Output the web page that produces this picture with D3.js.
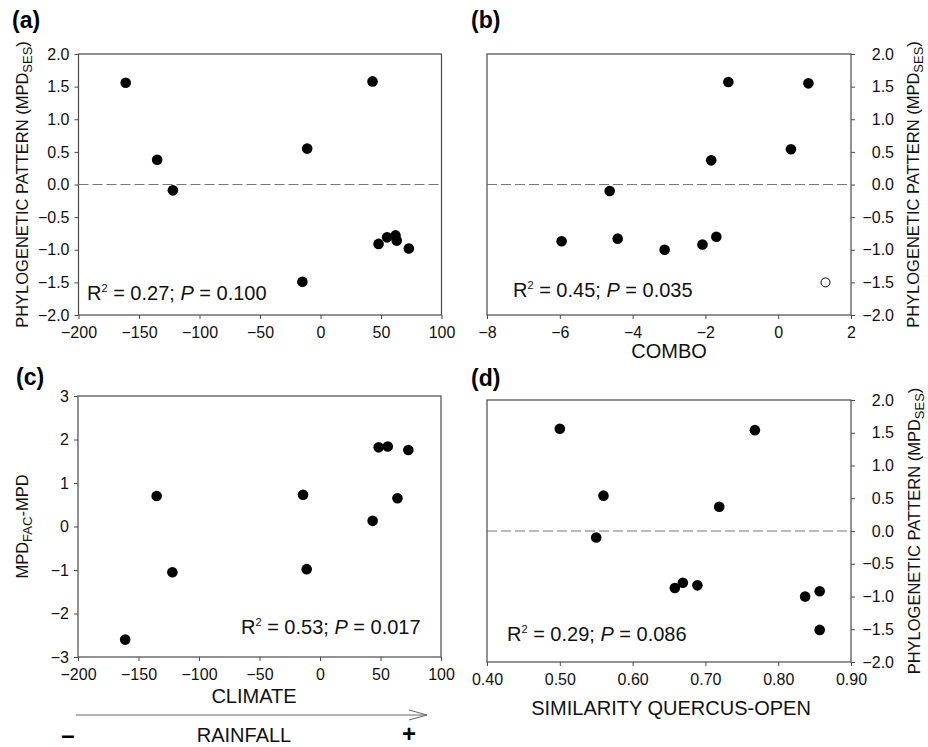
<!DOCTYPE html>
<html>
<head>
<meta charset="utf-8">
<script src="https://cdn.jsdelivr.net/npm/d3@7"></script>
<style>
    body { margin: 0; background: #fff; }
    svg { display: block; }
</style>
</head>
<body>
<div id="chart"></div>
<script>
// panel (a): climate vs phylogenetic pattern
const climateA = [-161, -135, -122, -15, -11, 43, 48, 55, 62, 63, 73]
const mpdSesA = [1.56, 0.38, -0.09, -1.49, 0.55, 1.58, -0.91, -0.81, -0.78, -0.86, -0.98]

// panel (b): combo vs phylogenetic pattern (one open point)
const comboB = [-5.95, -4.63, -4.41, -3.12, -2.08, -1.84, -1.70, -1.37, 0.35, 0.83]
const mpdSesB = [-0.87, -0.10, -0.83, -1.0, -0.92, 0.37, -0.80, 1.57, 0.54, 1.55]
const comboOpenB = [1.30]
const mpdSesOpenB = [-1.50]

// panel (c): climate vs MPDfac - MPD
const climateC = [-161, -135, -122, -14, -11, 43.5, 48.5, 56, 64, 73]
const mpdFacC = [-2.6, 0.70, -1.05, 0.73, -0.98, 0.13, 1.82, 1.84, 0.65, 1.76]

// panel (d): similarity quercus-open vs phylogenetic pattern
const similarityD = [0.50, 0.55, 0.56, 0.658, 0.669, 0.689, 0.719, 0.768, 0.837, 0.857, 0.857]
const mpdSesD = [1.56, -0.10, 0.54, -0.87, -0.79, -0.83, 0.37, 1.54, -1.0, -0.92, -1.51]

// tick values
const climateTicks = [-200, -150, -100, -50, 0, 50, 100]
const comboTicks = [-8, -6, -4, -2, 0, 2]
const similarityTicks = [0.40, 0.50, 0.60, 0.70, 0.80, 0.90]
const sesTicks = [-2, -1.5, -1, -0.5, 0, 0.5, 1, 1.5, 2]
const facTicks = [-3, -2, -1, 0, 1, 2, 3]

// stats text
const statsA = ['0.27', '0.100']
const statsB = ['0.45', '0.035']
const statsC = ['0.53', '0.017']
const statsD = ['0.29', '0.086']

const FONT = '"Liberation Sans", Arial, Helvetica, sans-serif'
const LINE = '#4a4a4a'

const svg = d3.select('#chart')
    .append('svg')
        .attr('width', 928)
        .attr('height', 747)
        .style('font-family', FONT)

const styleAxis = (axisG) => {
    axisG.attr('font-size', null).attr('font-family', null)
    axisG.select('.domain').remove()
    axisG.selectAll('.tick line').attr('stroke', LINE)
    axisG.selectAll('.tick text')
        .attr('fill', '#111')
        .style('font-size', '16px')
        .style('font-family', FONT)
}

const createPanel = ({left, top, width, height, xDomain, yDomain, xTicks, yTicks, xFormat, yFormat, yRight}) => {
    const g = svg.append('g')
        .attr('transform', 'translate(' + left + ',' + top + ')')

    const xScale = d3.scaleLinear().domain(xDomain).range([0, width])
    const yScale = d3.scaleLinear().domain(yDomain).range([height, 0])

    // frame
    g.append('rect')
        .attr('width', width)
        .attr('height', height)
        .attr('fill', 'none')
        .attr('stroke', LINE)
        .attr('stroke-width', 1.2)

    const xAxis = d3.axisBottom(xScale)
        .tickValues(xTicks)
        .tickFormat(d3.format(xFormat))
        .tickSize(4)
        .tickSizeOuter(0)
        .tickPadding(8)
    g.append('g')
        .attr('transform', 'translate(0,' + height + ')')
        .call(xAxis)
        .call(styleAxis)

    const yAxis = (yRight ? d3.axisRight(yScale) : d3.axisLeft(yScale))
        .tickValues(yTicks)
        .tickFormat(d3.format(yFormat))
        .tickSize(4)
        .tickSizeOuter(0)
        .tickPadding(5)
    const yG = g.append('g')
        .attr('transform', yRight ? 'translate(' + width + ',0)' : null)
        .call(yAxis)
        .call(styleAxis)
    if (yRight) {
        // labels are right-aligned in the original
        yG.selectAll('.tick text')
            .attr('text-anchor', 'end')
            .attr('x', 43)
    }

    return {g, xScale, yScale, width, height}
}

const zeroLine = (panel) => {
    panel.g.append('line')
        .attr('x1', 0)
        .attr('x2', panel.width)
        .attr('y1', panel.yScale(0))
        .attr('y2', panel.yScale(0))
        .attr('stroke', '#777')
        .attr('stroke-width', 1.2)
        .attr('stroke-dasharray', '10,4')
}

const plotPoints = (panel, xs, ys, open) => {
    panel.g.append('g')
        .selectAll('circle')
        .data(d3.zip(xs, ys))
        .join('circle')
            .attr('cx', (d) => panel.xScale(d[0]))
            .attr('cy', (d) => panel.yScale(d[1]))
            .attr('r', open ? 4.5 : 5.3)
            .attr('fill', open ? '#fff' : '#000')
            .attr('stroke', '#000')
            .attr('stroke-width', open ? 1 : 0)
}

const plotStats = (x, y, [r2, p]) => {
    const t = svg.append('text')
        .attr('x', x)
        .attr('y', y)
        .style('font-size', '20px')
        .attr('fill', '#111')
    t.append('tspan').text('R')
    t.append('tspan').text('2').style('font-size', '11px').attr('dy', -8)
    t.append('tspan').text(' = ' + r2 + '; ').attr('dy', 8)
    t.append('tspan').text('P').style('font-style', 'italic')
    t.append('tspan').text(' = ' + p)
}

const panelLabel = (x, y, label) => {
    svg.append('text')
        .attr('x', x)
        .attr('y', y)
        .style('font-size', '23px')
        .style('font-weight', 'bold')
        .text(label)
}

const yLabel = (x, y, parts) => {
    const t = svg.append('text')
        .attr('transform', 'translate(' + x + ',' + y + ') rotate(-90)')
        .attr('text-anchor', 'middle')
        .style('font-size', '16.5px')
        .attr('fill', '#111')
    parts.forEach(([text, sub]) => {
        t.append('tspan')
            .text(text)
            .attr('dy', sub === 1 ? 4 : sub === -1 ? -4 : 0)
            .style('font-size', sub === 1 ? '13px' : null)
    })
}

const xLabel = (x, y, text) => {
    svg.append('text')
        .attr('x', x)
        .attr('y', y)
        .attr('text-anchor', 'middle')
        .style('font-size', '20px')
        .attr('fill', '#111')
        .text(text)
}

const sesLabel = [['PHYLOGENETIC PATTERN (MPD', 0], ['SES', 1], [')', -1]]

// (a)
const pa = createPanel({left: 78.5, top: 54, width: 363, height: 261,
    xDomain: [-200, 100], yDomain: [-2, 2], xTicks: climateTicks, yTicks: sesTicks,
    xFormat: 'd', yFormat: '.1f'})
zeroLine(pa)
plotPoints(pa, climateA, mpdSesA)
plotStats(87, 300, statsA)
panelLabel(12, 28, '(a)')
yLabel(28, 184.5, sesLabel)

// (b)
const pb = createPanel({left: 487, top: 54, width: 364, height: 261,
    xDomain: [-8, 2], yDomain: [-2, 2], xTicks: comboTicks, yTicks: sesTicks,
    xFormat: 'd', yFormat: '.1f', yRight: true})
zeroLine(pb)
plotPoints(pb, comboB, mpdSesB)
plotPoints(pb, comboOpenB, mpdSesOpenB, true)
plotStats(513, 297, statsB)
panelLabel(471, 28, '(b)')
yLabel(919, 184.5, sesLabel)
xLabel(669, 358, 'COMBO')

// (c)
const pc = createPanel({left: 78, top: 396, width: 363, height: 261,
    xDomain: [-200, 100], yDomain: [-3, 3], xTicks: climateTicks, yTicks: facTicks,
    xFormat: 'd', yFormat: 'd'})
plotPoints(pc, climateC, mpdFacC)
plotStats(241, 634, statsC)
panelLabel(16, 385, '(c)')
yLabel(28, 526.5, [['MPD', 0], ['FAC', 1], ['-MPD', -1]])
xLabel(254, 703, 'CLIMATE')

// (d)
const pd = createPanel({left: 487, top: 400, width: 364, height: 262,
    xDomain: [0.4, 0.9], yDomain: [-2, 2], xTicks: similarityTicks, yTicks: sesTicks,
    xFormat: '.2f', yFormat: '.1f', yRight: true})
zeroLine(pd)
plotPoints(pd, similarityD, mpdSesD)
plotStats(507, 641, statsD)
panelLabel(471, 386, '(d)')
yLabel(920, 531, sesLabel)
xLabel(671, 715, 'SIMILARITY QUERCUS-OPEN')

// rainfall gradient arrow under (c)
const arrow = svg.append('g')
    .attr('stroke', '#666')
    .attr('stroke-width', 1)
    .attr('fill', 'none')
arrow.append('line')
    .attr('x1', 76).attr('x2', 427)
    .attr('y1', 715).attr('y2', 715)
arrow.append('path')
    .attr('d', 'M409,710 L427,715 L409,720')

xLabel(244, 742, 'RAINFALL')
svg.append('text')
    .attr('x', 68).attr('y', 743)
    .attr('text-anchor', 'middle')
    .style('font-size', '24px')
    .style('font-weight', 'bold')
    .text('–')
svg.append('text')
    .attr('x', 409).attr('y', 742)
    .attr('text-anchor', 'middle')
    .style('font-size', '24px')
    .style('font-weight', 'bold')
    .text('+')
</script>
</body>
</html>
